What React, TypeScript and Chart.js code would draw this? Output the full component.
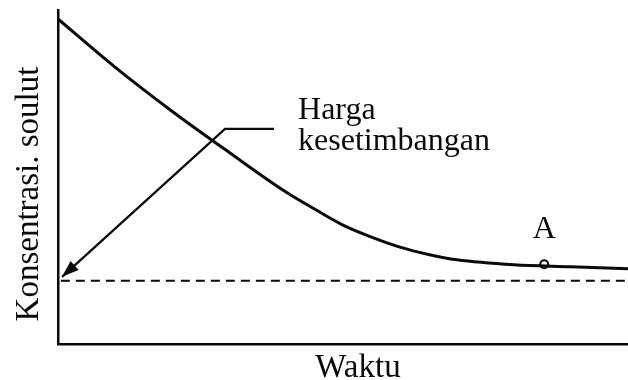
import React, { useEffect, useRef } from "react";
import { Chart, registerables } from "chart.js";

Chart.register(...registerables);

// Time axis (arbitrary units, 0..100) and solute concentration (0..100)
const timeValues = [0, 10, 20, 30, 40, 45, 50, 55, 60, 65, 70, 80, 90, 100];
const concentration = [97.3, 82.9, 69.7, 57.4, 45.5, 40.4, 35.6, 32.0, 29.0, 26.8, 25.2, 23.7, 23.1, 22.5];

// Equilibrium value (dashed line)
const equilibriumValue = 18.9;
const equilibriumX = [0.5, 100];

// Arrow from label to equilibrium line (tip first)
const arrowX = [0.7, 29.3, 37.9];
const arrowY = [20.1, 64.4, 64.4];

// Point A
const pointAX = [85.3];
const pointAY = [23.9];

const yAxisTitle = "Konsentrasi. soulut";
const xAxisTitle = "Waktu";
const labelLines = ["Harga", "kesetimbangan"];
const pointLabel = "A";

const FONT = '32px "Liberation Serif", "Times New Roman", serif';
const AXIS_FONT = '33px "Liberation Serif", "Times New Roman", serif';
const INK = "#0a0a0a";

const annotationPlugin = {
  id: "annotations",
  afterDatasetsDraw(chart: any) {
    const ctx = chart.ctx as CanvasRenderingContext2D;
    const meta = chart.getDatasetMeta(2);
    if (!meta || !meta.data || meta.data.length < 2) return;
    const tip = meta.data[0];
    const from = meta.data[1];
    const ang = Math.atan2(tip.y - from.y, tip.x - from.x);
    const len = 17;
    const half = 6;
    ctx.save();
    ctx.fillStyle = INK;
    ctx.beginPath();
    ctx.moveTo(tip.x, tip.y);
    ctx.lineTo(
      tip.x - len * Math.cos(ang) + half * Math.sin(ang),
      tip.y - len * Math.sin(ang) - half * Math.cos(ang)
    );
    ctx.lineTo(
      tip.x - len * Math.cos(ang) - half * Math.sin(ang),
      tip.y - len * Math.sin(ang) + half * Math.cos(ang)
    );
    ctx.closePath();
    ctx.fill();
    ctx.restore();
  },
  afterDraw(chart: any) {
    const ctx = chart.ctx as CanvasRenderingContext2D;
    const xs = chart.scales.x;
    const ys = chart.scales.y;
    const area = chart.chartArea;
    ctx.save();
    ctx.fillStyle = INK;
    ctx.font = FONT;
    ctx.textBaseline = "alphabetic";

    // Label "Harga kesetimbangan"
    ctx.textAlign = "left";
    const lx = xs.getPixelForValue(arrowX[2]) + 24;
    const ly = ys.getPixelForValue(arrowY[2]) - 10;
    labelLines.forEach((t, i) => ctx.fillText(t, lx, ly + i * 31));

    // Label "A"
    ctx.textAlign = "center";
    ctx.fillText(pointLabel, xs.getPixelForValue(pointAX[0]), ys.getPixelForValue(pointAY[0]) - 26);

    // X axis title
    ctx.font = AXIS_FONT;
    ctx.fillText(xAxisTitle, (area.left + area.right) / 2 + 15, area.bottom + 33);

    // Y axis title
    ctx.translate(area.left - 20, (area.top + area.bottom) / 2 + 17);
    ctx.rotate(-Math.PI / 2);
    ctx.fillText(yAxisTitle, 0, 0);
    ctx.restore();
  },
};

const zeroFitX = (scale: any) => {
  scale.height = 0;
  scale.paddingLeft = 0;
  scale.paddingRight = 0;
  scale.paddingTop = 0;
  scale.paddingBottom = 0;
};
const zeroFitY = (scale: any) => {
  scale.width = 0;
  scale.paddingLeft = 0;
  scale.paddingRight = 0;
  scale.paddingTop = 0;
  scale.paddingBottom = 0;
};

export default function App() {
  const canvasRef = useRef<HTMLCanvasElement | null>(null);

  useEffect(() => {
    const canvas = canvasRef.current;
    if (!canvas) return;
    const chart = new Chart(canvas, {
      type: "line",
      data: {
        datasets: [
          {
            label: "Konsentrasi",
            data: timeValues.map((t, i) => ({ x: t, y: concentration[i] })),
            borderColor: INK,
            borderWidth: 3,
            pointRadius: 0,
            cubicInterpolationMode: "monotone",
            fill: false,
            clip: false as any,
          },
          {
            label: "Harga kesetimbangan",
            data: equilibriumX.map((t) => ({ x: t, y: equilibriumValue })),
            borderColor: INK,
            borderWidth: 2,
            borderDash: [9, 6],
            pointRadius: 0,
            fill: false,
            clip: false as any,
          },
          {
            label: "arrow",
            data: arrowX.map((t, i) => ({ x: t, y: arrowY[i] })),
            borderColor: INK,
            borderWidth: 2.3,
            pointRadius: 0,
            tension: 0,
            fill: false,
            clip: false as any,
          },
          {
            label: "A",
            data: pointAX.map((t, i) => ({ x: t, y: pointAY[i] })),
            showLine: false,
            pointRadius: 4,
            pointBorderWidth: 2,
            pointBorderColor: INK,
            pointBackgroundColor: "#fff",
            clip: false as any,
          },
        ],
      },
      options: {
        responsive: false,
        animation: false,
        devicePixelRatio: 1,
        layout: { autoPadding: false, padding: { left: 58, top: 10, right: 0, bottom: 36 } },
        plugins: {
          legend: { display: false },
          tooltip: { enabled: false },
          title: { display: false },
        },
        scales: {
          x: {
            type: "linear",
            min: 0,
            max: 100,
            ticks: { display: false },
            grid: { display: false },
            border: { display: true, color: INK, width: 2.5 },
            title: { display: false },
            afterFit: zeroFitX,
          },
          y: {
            type: "linear",
            min: 0,
            max: 100,
            ticks: { display: false },
            grid: { display: false },
            border: { display: true, color: INK, width: 2.5 },
            title: { display: false },
            afterFit: zeroFitY,
          },
        },
      },
      plugins: [annotationPlugin],
    });
    return () => chart.destroy();
  }, []);

  return (
    <div
      style={{
        position: "fixed",
        left: 0,
        top: 0,
        width: 628,
        height: 380,
        background: "#fff",
      }}
    >
      <canvas ref={canvasRef} width={628} height={380} style={{ display: "block" }} />
    </div>
  );
}
